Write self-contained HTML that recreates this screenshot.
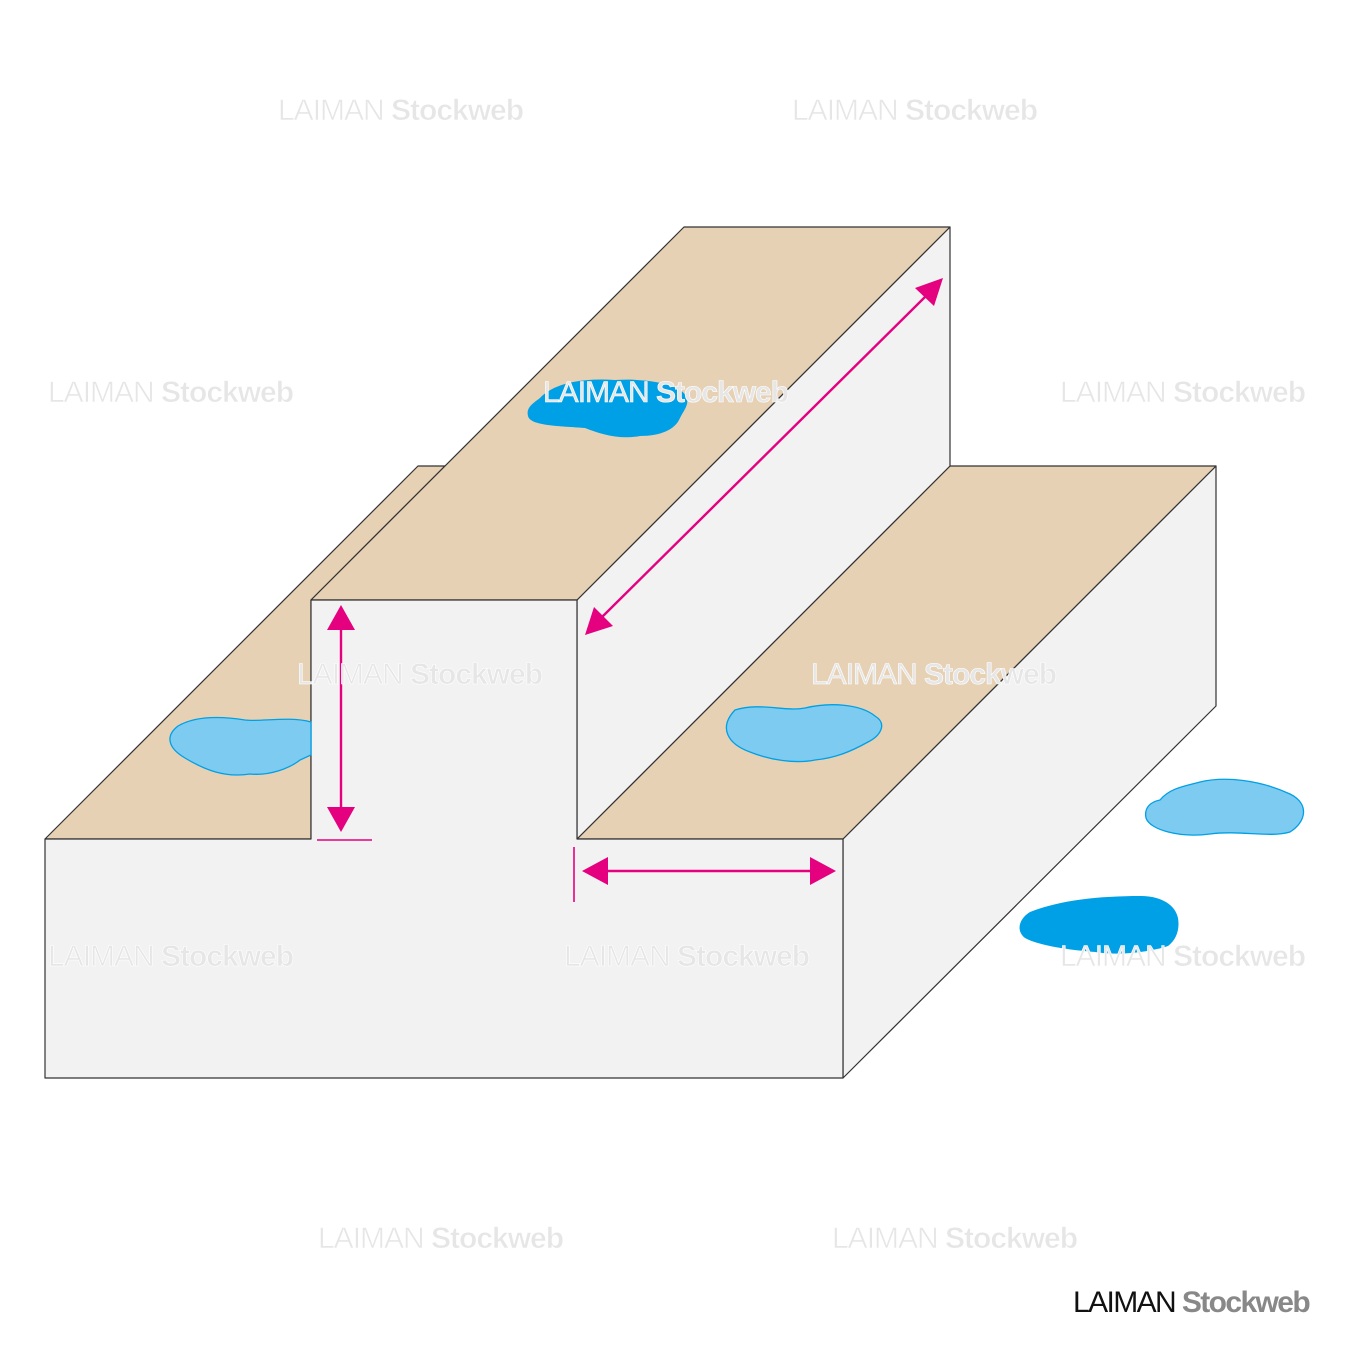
<!DOCTYPE html>
<html><head><style>body{margin:0;background:#fff}svg{display:block}</style></head><body>
<svg width="1350" height="1350" viewBox="0 0 1350 1350" xmlns="http://www.w3.org/2000/svg">
<g stroke="#333" stroke-width="1.2" stroke-linejoin="round">
<polygon points="843,839 1216,466 1216,706 843,1078" fill="#f2f2f2"/>
<polygon points="577,839 950,466 1216,466 843,839" fill="#e7d1b4"/>
<polygon points="45,839 418,466 445,466 311,600 311,839" fill="#e7d1b4"/>
<polygon points="577,600 950,227 950,466 577,839" fill="#f2f2f2"/>
<polygon points="311,600 684,227 950,227 577,600" fill="#e7d1b4"/>
<polygon points="45,839 311,839 311,600 577,600 577,839 843,839 843,1078 45,1078" fill="#f2f2f2"/>
</g>
<g stroke="#00a0e4" stroke-width="1.3" fill="#7ecbf2">
<path d="M311,722 C290,716 260,722 245,720 C220,716 195,716 178,726 C165,736 168,748 185,758 C205,770 225,778 250,774 C270,776 290,768 300,760 L311,755 Z"/>
<path d="M735,710 C760,702 785,712 805,708 C830,702 860,704 875,716 C888,724 880,736 868,742 C850,752 835,758 815,760 C795,764 770,760 750,752 C728,744 718,728 735,710 Z"/>
<path d="M1160,800 C1170,788 1185,786 1200,782 C1225,776 1260,780 1290,794 C1310,804 1306,822 1290,832 C1270,838 1240,830 1210,834 C1180,838 1150,830 1146,818 C1144,808 1150,802 1160,800 Z"/>
</g>
<g fill="#00a0e6">
<path d="M540,398 C555,382 585,378 615,380 C645,378 680,384 686,396 C690,404 684,410 680,418 C675,430 660,436 640,436 C620,440 600,434 585,428 C560,426 530,426 528,416 C526,408 532,404 540,398 Z"/>
<path d="M1030,912 C1060,900 1100,896 1140,896 C1160,896 1175,904 1178,918 C1180,930 1176,940 1168,946 C1150,952 1120,956 1095,952 C1070,950 1040,946 1025,938 C1015,930 1020,918 1030,912 Z"/>
</g>
<g stroke="#e4007f" stroke-width="2.4" fill="#e4007f">
<line x1="341" y1="625" x2="341" y2="812"/>
<polygon points="341,605 327,630 355,630" stroke="none"/>
<polygon points="341,832 327,807 355,807" stroke="none"/>
<line x1="317" y1="840" x2="372" y2="840" stroke-width="1.6"/>
<line x1="602" y1="871" x2="816" y2="871"/>
<polygon points="582,871 608,857 608,885" stroke="none"/>
<polygon points="836,871 810,857 810,885" stroke="none"/>
<line x1="574" y1="847" x2="574" y2="902" stroke-width="1.6"/>
<line x1="598" y1="621" x2="930" y2="292"/>
<polygon points="585,635 594,607 613,626" stroke="none"/>
<polygon points="943,278 915,288 934,306" stroke="none"/>
</g>
<g font-family="Liberation Sans, sans-serif" font-size="30" fill="#e6e6e6" stroke="#fff" stroke-width="0.6" letter-spacing="-1">
<text x="278" y="120">LAIMAN <tspan font-weight="bold">Stockweb</tspan></text>
<text x="792" y="120">LAIMAN <tspan font-weight="bold">Stockweb</tspan></text>
<text x="48" y="402">LAIMAN <tspan font-weight="bold">Stockweb</tspan></text>
<text x="543" y="402">LAIMAN <tspan font-weight="bold">Stockweb</tspan></text>
<text x="1060" y="402">LAIMAN <tspan font-weight="bold">Stockweb</tspan></text>
<text x="297" y="684">LAIMAN <tspan font-weight="bold">Stockweb</tspan></text>
<text x="811" y="684">LAIMAN <tspan font-weight="bold">Stockweb</tspan></text>
<text x="48" y="966">LAIMAN <tspan font-weight="bold">Stockweb</tspan></text>
<text x="564" y="966">LAIMAN <tspan font-weight="bold">Stockweb</tspan></text>
<text x="1060" y="966">LAIMAN <tspan font-weight="bold">Stockweb</tspan></text>
<text x="318" y="1248">LAIMAN <tspan font-weight="bold">Stockweb</tspan></text>
<text x="832" y="1248">LAIMAN <tspan font-weight="bold">Stockweb</tspan></text>
</g>
<text x="1073" y="1312" font-family="Liberation Sans, sans-serif" font-size="30" fill="#111" letter-spacing="-1.6">LAIMAN <tspan fill="#888" font-weight="bold">Stockweb</tspan></text>
</svg>
</body></html>
